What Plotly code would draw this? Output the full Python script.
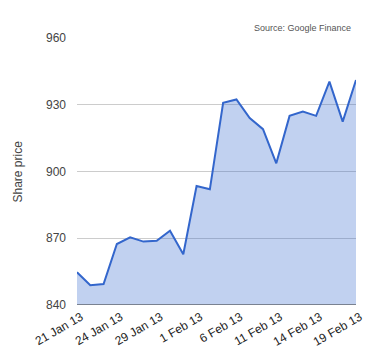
import plotly.graph_objects as go

dates = ["21 Jan 13", "22 Jan 13", "23 Jan 13", "24 Jan 13", "25 Jan 13", "28 Jan 13",
         "29 Jan 13", "30 Jan 13", "31 Jan 13", "1 Feb 13", "4 Feb 13", "5 Feb 13",
         "6 Feb 13", "7 Feb 13", "8 Feb 13", "11 Feb 13", "12 Feb 13", "13 Feb 13",
         "14 Feb 13", "15 Feb 13", "18 Feb 13", "19 Feb 13"]
prices = [854.7, 848.9, 849.4, 867.4, 870.4, 868.5, 868.9, 873.4, 862.8, 893.5, 892.0,
          930.9, 932.4, 924.0, 919.0, 903.7, 925.0, 926.9, 925.0, 940.4, 922.4, 941.1]
tick_labels = ["21 Jan 13", "24 Jan 13", "29 Jan 13", "1 Feb 13", "6 Feb 13",
               "11 Feb 13", "14 Feb 13", "19 Feb 13"]
y_ticks = [840, 870, 900, 930, 960]

# page has an 8px body margin
L, R, T, B = 69, 32, 30, 63
W, H = 380, 360
plot_w = W - L - R

fig = go.Figure()
fig.add_trace(go.Scatter(
    x=dates, y=prices, mode="lines", fill="tozeroy",
    line=dict(color="#3366cc", width=2),
    fillcolor="rgba(51,102,204,0.3)",
    hoverinfo="x+y",
))

fig.update_layout(
    width=W, height=H,
    margin=dict(l=L, r=R, t=T, b=B, autoexpand=False),
    paper_bgcolor="white", plot_bgcolor="white",
    font=dict(family="Liberation Sans, Arial, sans-serif", color="#444", size=12),
    showlegend=False,
    xaxis=dict(
        type="category", range=[0, 21], automargin=False,
        tickmode="array", tickvals=tick_labels, ticktext=tick_labels,
        tickangle=-30, tickfont=dict(size=12, color="#222"),
        ticklabelshift=4, ticklabelstandoff=2,
        showgrid=False, showline=False, zeroline=False, ticks="",
    ),
    yaxis=dict(
        range=[840, 960], tickvals=y_ticks, automargin=False,
        gridcolor="#cccccc", gridwidth=1, zeroline=False, showline=False,
        ticks="", tickfont=dict(size=12, color="#444"), ticklabelstandoff=10,
    ),
    annotations=[
        dict(text="Source: Google Finance", xref="paper", yref="paper",
             x=1, y=1, xanchor="right", yanchor="bottom", yshift=3, xshift=-3,
             showarrow=False, font=dict(size=9, color="#555")),
        dict(text="Share price", xref="paper", yref="paper",
             x=(17 - 77) / plot_w, y=0.5, xanchor="center", yanchor="middle",
             textangle=-90, showarrow=False, font=dict(size=12, color="#444")),
    ],
    shapes=[dict(type="line", xref="paper", yref="y", x0=0, x1=1, y0=840, y1=840,
                 line=dict(color="#333333", width=1))],
)

fig.write_html("out.html")
